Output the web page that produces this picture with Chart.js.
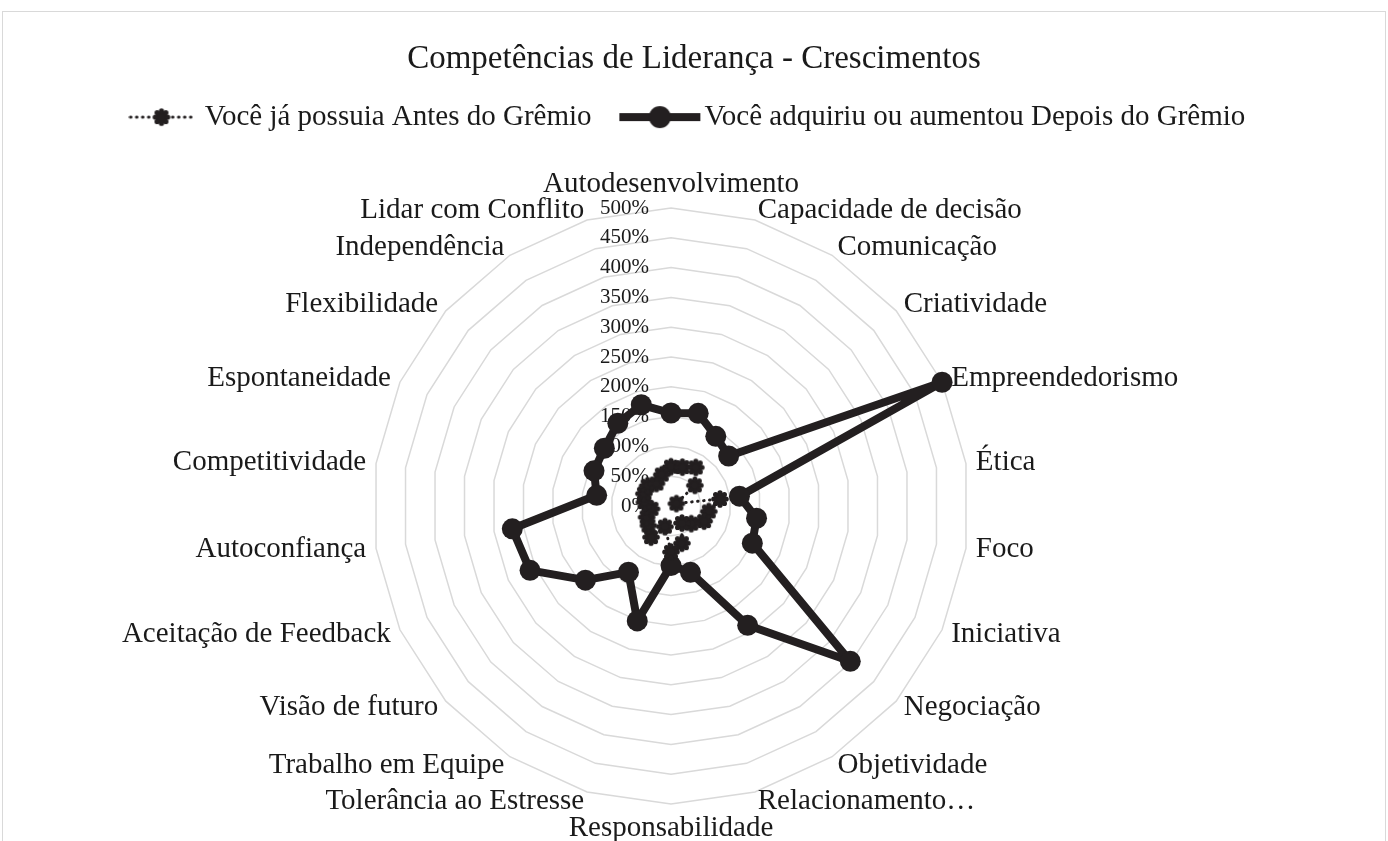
<!DOCTYPE html>
<html>
<head>
<meta charset="utf-8">
<script src="https://cdn.jsdelivr.net/npm/chart.js@4.4.1/dist/chart.umd.min.js"></script>
<style>
    html, body { margin: 0; padding: 0; background: #fff; overflow: hidden; }
    #moldura { position: absolute; left: 2px; top: 11px; width: 1384px; height: 900px; border: 1.5px solid #d9d9d9; box-sizing: border-box; }
    #caixa { position: absolute; left: 0; top: 0; width: 1388px; height: 900px; }
</style>
</head>
<body>
<div id="moldura"></div>
<div id="caixa"><canvas id="radar"></canvas></div>
<script>
// Dados do grafico
const competencias = [
    'Autodesenvolvimento', 'Capacidade de decisão', 'Comunicação', 'Criatividade',
    'Empreendedorismo', 'Ética', 'Foco', 'Iniciativa', 'Negociação', 'Objetividade',
    'Relacionamento…', 'Responsabilidade', 'Tolerância ao Estresse', 'Trabalho em Equipe',
    'Visão de futuro', 'Aceitação de Feedback', 'Autoconfiança', 'Competitividade',
    'Espontaneidade', 'Flexibilidade', 'Independência', 'Lidar com Conflito'
];
const antesGremio = [66, 68, 77, 53, 10, 83, 64, 61, 45, 34, 65, 77, 36, 62, 50, 45, 33, 45, 50, 52, 45, 55];
const depoisGremio = [156, 162, 139, 128, 500, 116, 145, 150, 398, 238, 116, 100, 201, 132, 190, 260, 269, 126, 142, 148, 165, 177];
const marcas = [0, 50, 100, 150, 200, 250, 300, 350, 400, 450, 500];
const rotulosMarcas = ['0%', '50%', '100%', '150%', '200%', '250%', '300%', '350%', '400%', '450%', '500%'];
const nomesSeries = ['Você já possuia Antes do Grêmio', 'Você adquiriu ou aumentou Depois do Grêmio'];

const corSerie = '#231f20';
const corTexto = '#1a1a1a';
const fonte = '"Liberation Serif", "Times New Roman", serif';

// marcador "engrenagem" da serie Antes
function marcadorAntes() {
    const c = document.createElement('canvas');
    c.width = 20; c.height = 20;
    const g = c.getContext('2d');
    g.fillStyle = corSerie;
    g.beginPath(); g.arc(10, 10, 6, 0, Math.PI * 2); g.fill();
    for (let i = 0; i < 8; i++) {
        const a = i * Math.PI / 4;
        g.beginPath(); g.arc(10 + Math.cos(a) * 6.2, 10 + Math.sin(a) * 6.2, 2.6, 0, Math.PI * 2); g.fill();
    }
    return c;
}

// amostras da legenda (linha + marcador); a imagem fica centrada na caixa da legenda
function amostraAntes() {
    const c = document.createElement('canvas');
    c.width = 76; c.height = 24;
    const g = c.getContext('2d');
    g.strokeStyle = corSerie; g.lineWidth = 3; g.lineCap = 'round';
    g.setLineDash([0.5, 5.5]);
    g.beginPath(); g.moveTo(2, 12); g.lineTo(68, 12); g.stroke();
    g.drawImage(marcadorAntes(), 23, 2);
    return c;
}
function amostraDepois() {
    const c = document.createElement('canvas');
    c.width = 96; c.height = 26;
    const g = c.getContext('2d');
    g.strokeStyle = corSerie; g.fillStyle = corSerie; g.lineWidth = 8;
    g.beginPath(); g.moveTo(1, 13); g.lineTo(82, 13); g.stroke();
    g.beginPath(); g.arc(41.5, 13, 11, 0, Math.PI * 2); g.fill();
    return c;
}

// rotulos das marcas (antes das series) e das categorias
const rotulosPlugin = {
    id: 'rotulos',
    beforeDatasetsDraw(chart) {
        const r = chart.scales.r;
        const ctx = chart.ctx;
        ctx.save();
        ctx.fillStyle = corTexto;
        ctx.font = '21px ' + fonte;
        ctx.textAlign = 'right';
        ctx.textBaseline = 'middle';
        marcas.forEach((v, i) => {
            ctx.fillText(rotulosMarcas[i], r.xCenter - 22, r.yCenter - r.getDistanceFromCenterForValue(v));
        });
        ctx.restore();
    },
    afterDraw(chart) {
        const r = chart.scales.r;
        const ctx = chart.ctx;
        const n = competencias.length;
        ctx.save();
        ctx.fillStyle = corTexto;
        ctx.font = '29px ' + fonte;
        competencias.forEach((txt, i) => {
            if (i === 0 || i * 2 === n) {
                const p = r.getPointPosition(i, r.drawingArea + 24);
                ctx.textAlign = 'center';
                ctx.textBaseline = 'middle';
                ctx.fillText(txt, p.x, p.y);
            } else {
                const p = r.getPointPosition(i, r.drawingArea + 10);
                ctx.textAlign = p.x > r.xCenter ? 'left' : 'right';
                ctx.textBaseline = 'middle';
                ctx.fillText(txt, p.x, p.y);
            }
        });
        ctx.restore();
    }
};

const ctx = document.getElementById('radar').getContext('2d');
const grafico = new Chart(ctx, {
    type: 'radar',
    data: {
        labels: competencias,
        datasets: [
            {
                label: nomesSeries[0],
                data: antesGremio,
                borderColor: corSerie,
                borderWidth: 3,
                borderDash: [0.5, 5.5],
                borderCapStyle: 'round',
                fill: false,
                pointStyle: marcadorAntes(),
                pointRadius: 9,
                clip: false
            },
            {
                label: nomesSeries[1],
                data: depoisGremio,
                borderColor: corSerie,
                borderWidth: 8,
                borderJoinStyle: 'round',
                fill: false,
                pointStyle: 'circle',
                pointRadius: 10.5,
                pointBackgroundColor: corSerie,
                pointBorderColor: corSerie,
                pointBorderWidth: 0,
                clip: false
            }
        ]
    },
    options: {
        responsive: true,
        maintainAspectRatio: false,
        animation: false,
        events: [],
        layout: { padding: 0 },
        scales: {
            r: {
                min: 0,
                max: 500,
                ticks: { stepSize: 50, display: false },
                grid: { color: '#d9d9d9', lineWidth: 1.5 },
                angleLines: { display: false },
                pointLabels: { display: false },
                afterFit(scale) {
                    scale.xCenter = 671;
                    scale.yCenter = 506;
                    scale.drawingArea = 298;
                }
            }
        },
        plugins: {
            title: {
                display: true,
                text: 'Competências de Liderança - Crescimentos',
                color: corTexto,
                font: { family: fonte, size: 33, weight: 'normal' },
                padding: { top: 40, bottom: -28 }
            },
            legend: {
                display: true,
                labels: {
                    color: corTexto,
                    font: { family: fonte, size: 29 },
                    usePointStyle: true,
                    pointStyleWidth: 47.5,
                    padding: 51,
                    generateLabels() {
                        return [
                            { text: nomesSeries[0], pointStyle: amostraAntes(), fillStyle: corSerie, strokeStyle: corSerie, lineWidth: 0, hidden: false, datasetIndex: 0, fontColor: corTexto },
                            { text: nomesSeries[1], pointStyle: amostraDepois(), fillStyle: corSerie, strokeStyle: corSerie, lineWidth: 0, hidden: false, datasetIndex: 1, fontColor: corTexto }
                        ];
                    }
                }
            },
            tooltip: { enabled: false }
        }
    },
    plugins: [rotulosPlugin]
});
</script>
</body>
</html>
